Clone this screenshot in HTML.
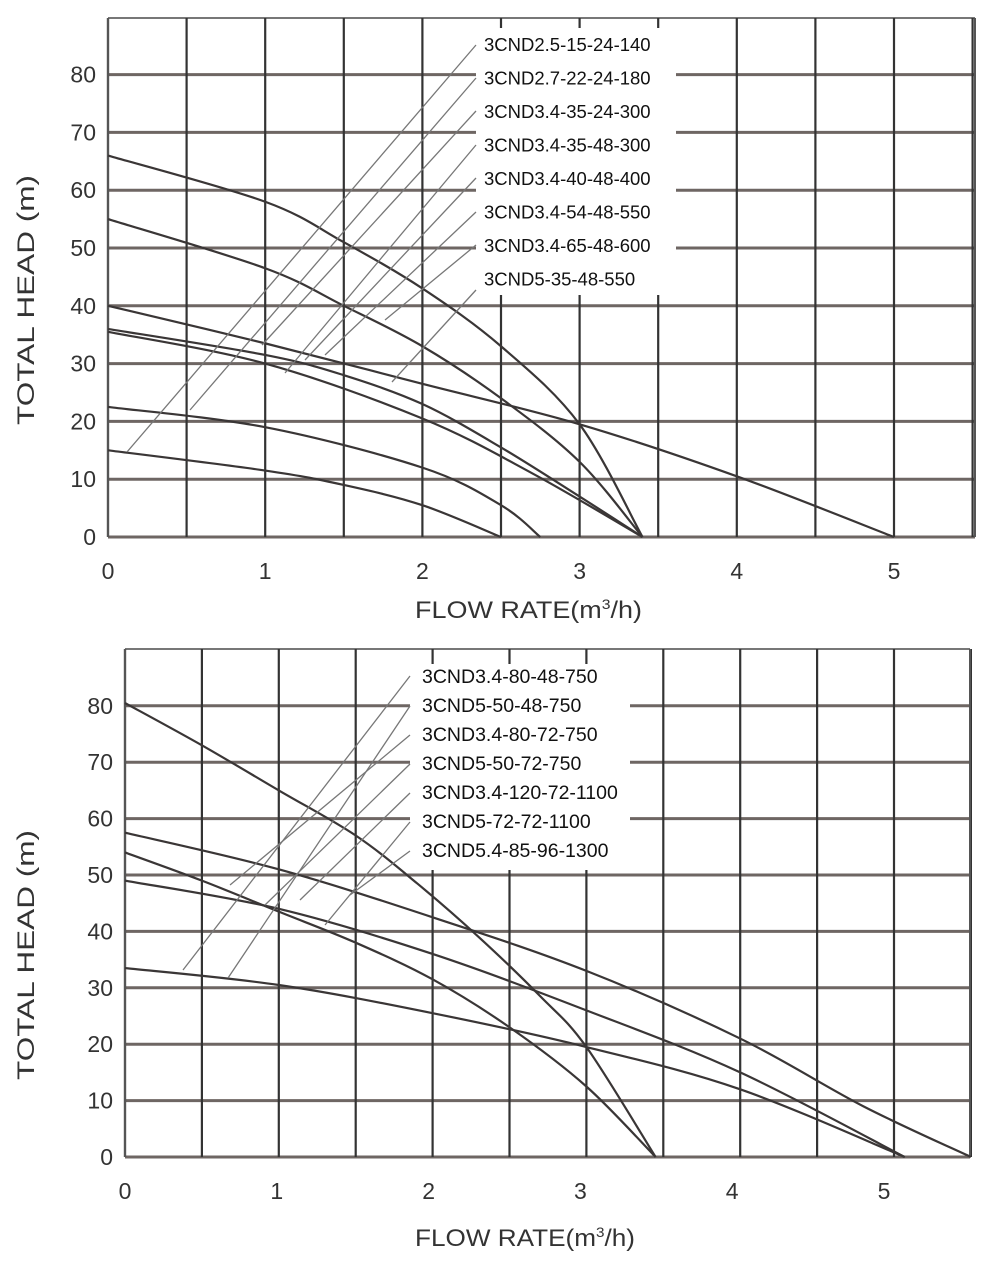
<!DOCTYPE html>
<html><head><meta charset="utf-8"><style>
html,body{margin:0;padding:0;background:#fff;}
svg{display:block}
</style></head><body>
<svg id="s" width="1000" height="1265" xmlns="http://www.w3.org/2000/svg" font-family="Liberation Sans, sans-serif">
</svg>
<script>
const S=document.getElementById('s');const NS='http://www.w3.org/2000/svg';
function el(t,a,txt){const e=document.createElementNS(NS,t);for(const k in a)e.setAttribute(k,a[k]);if(txt!==undefined)e.textContent=txt;S.appendChild(e);return e;}
function chart(c){
 const X=q=>c.x0+q*c.ux, Y=h=>c.y0-h*c.uy;
 for(let h=0;h<=80;h+=10){el('line',{x1:c.x0,x2:c.xr,y1:Y(h),y2:Y(h),stroke:'#6e6663','stroke-width':3});}
 el('line',{x1:c.x0,x2:c.xr,y1:c.yt,y2:c.yt,stroke:'#777','stroke-width':2});
 for(let q=0;q<=c.qmax;q+=0.5){el('line',{x1:X(q),x2:X(q),y1:c.yt,y2:c.y0,stroke:'#333','stroke-width':2.2});}
 el('line',{x1:c.xr,x2:c.xr,y1:c.yt,y2:c.y0,stroke:'#555','stroke-width':2});
 el('line',{x1:c.x0,x2:c.x0,y1:c.yt,y2:c.y0,stroke:'#555','stroke-width':2.2});
 el('rect',{x:c.bx,y:c.by,width:c.bw,height:c.bh,fill:'#fff'});
 c.curves.forEach(pts=>{
  const P=pts.map(p=>[X(p[0]),Y(p[1])]);
  let d='M'+P[0][0]+','+P[0][1];
  for(let i=0;i<P.length-1;i++){
   const p0=P[i-1]||P[i],p1=P[i],p2=P[i+1],p3=P[i+2]||P[i+1];
   const c1=[p1[0]+(p2[0]-p0[0])/6,p1[1]+(p2[1]-p0[1])/6];
   const c2=[p2[0]-(p3[0]-p1[0])/6,p2[1]-(p3[1]-p1[1])/6];
   d+=' C'+c1+' '+c2+' '+p2;
  }
  el('path',{d:d,fill:'none',stroke:'#3a3636','stroke-width':2.2});
 });
 c.leaders.forEach(l=>el('line',{x1:l[0],y1:l[1],x2:l[2],y2:l[3],stroke:'#777','stroke-width':1.3}));
 c.labels.forEach((t,i)=>el('text',{x:c.lx,y:c.ly0+i*c.ldy,'font-size':c.lfs,fill:'#111'},t));
 for(let h=0;h<=80;h+=10)el('text',{x:c.x0-12,y:Y(h)+8,'font-size':23,'text-anchor':'end',fill:'#333'},h);
 for(let q=0;q<=5;q++)el('text',{x:X(q)+c.tdx*q,y:c.y0+42,'font-size':23,'text-anchor':'middle',fill:'#333'},q);
 el('text',{transform:'translate('+c.tx+','+c.ymid+') rotate(-90)','font-size':24,'text-anchor':'middle',fill:'#333',textLength:250,lengthAdjust:'spacingAndGlyphs'},'TOTAL HEAD  (m)');
 const t=el('text',{x:c.fx,y:c.fy,'font-size':24,fill:'#333',textLength:c.fw,lengthAdjust:'spacingAndGlyphs'},'FLOW RATE(m');
 const sp=document.createElementNS(NS,'tspan');sp.setAttribute('font-size','14');sp.setAttribute('dy','-9');sp.textContent='3';t.appendChild(sp);
 const sp2=document.createElementNS(NS,'tspan');sp2.setAttribute('dy','9');sp2.textContent='/h)';t.appendChild(sp2);
}
chart({x0:108,xr:975,ux:157.2,y0:537,uy:5.78,yt:18,qmax:5.5,bx:476,by:28,bw:200,bh:267,lx:484,lfs:18.5,ly0:51,ldy:33.5,ymid:300,tx:34,fx:415,fy:618,fw:227,tdx:0,
 labels:['3CND2.5-15-24-140','3CND2.7-22-24-180','3CND3.4-35-24-300','3CND3.4-35-48-300','3CND3.4-40-48-400','3CND3.4-54-48-550','3CND3.4-65-48-600','3CND5-35-48-550'],
 leaders:[[476,45,127,452],[476,78,190,410],[476,111,262,345],[476,145,285,373],[476,178,305,360],[476,212,325,355],[476,245,385,320],[476,290,392,382]],
 curves:[
  [[0,15],[1,11.5],[1.5,9],[2,5.5],[2.5,0]],
  [[0,22.5],[1,19],[2,12],[2.5,5.5],[2.75,0]],
  [[0,35.5],[1,30],[2,20.5],[2.7,11],[3.4,0]],
  [[0,36],[1,31.5],[1.5,28],[2,23],[2.5,15.5],[3,7],[3.4,0]],
  [[0,40],[1,33.5],[2,26.5],[3,19.5],[4,10.5],[5,0]],
  [[0,55],[1,46.5],[1.5,40],[2,33],[2.5,24],[3,13],[3.4,0]],
  [[0,66],[1,58],[1.5,51],[2,43],[2.5,33],[3,19.5],[3.4,0]]
 ]});
chart({x0:125,xr:970,ux:153.8,y0:1157,uy:5.64,yt:649,qmax:5.5,bx:410,by:664,bw:220,bh:206,lx:422,lfs:19.5,ly0:683,ldy:29,ymid:955,tx:34,fx:415,fy:1246,fw:220,tdx:-2,
 labels:['3CND3.4-80-48-750','3CND5-50-48-750','3CND3.4-80-72-750','3CND5-50-72-750','3CND3.4-120-72-1100','3CND5-72-72-1100','3CND5.4-85-96-1300'],
 leaders:[[410,676,183,970],[410,706,228,978],[410,735,230,885],[410,764,265,905],[410,793,300,900],[410,822,325,925],[410,851,350,895]],
 curves:[
  [[0,80.5],[0.5,73],[1,65],[1.5,57],[1.9,48.5],[2.3,39],[2.7,28.5],[3,19.5],[3.45,0]],
  [[0,57.5],[1,51],[2,42.5],[3,33],[4,21],[4.8,9],[5.5,0]],
  [[0,54],[0.5,49],[1,43.5],[1.5,38],[2,31.5],[2.5,23],[3,12.5],[3.45,0]],
  [[0,49],[1,44],[2,36],[3,26],[4,15],[5.07,0]],
  [[0,33.5],[1,30.5],[2,25.5],[3,19.5],[4,12],[5.07,0]]
 ]});
</script>
</body></html>
